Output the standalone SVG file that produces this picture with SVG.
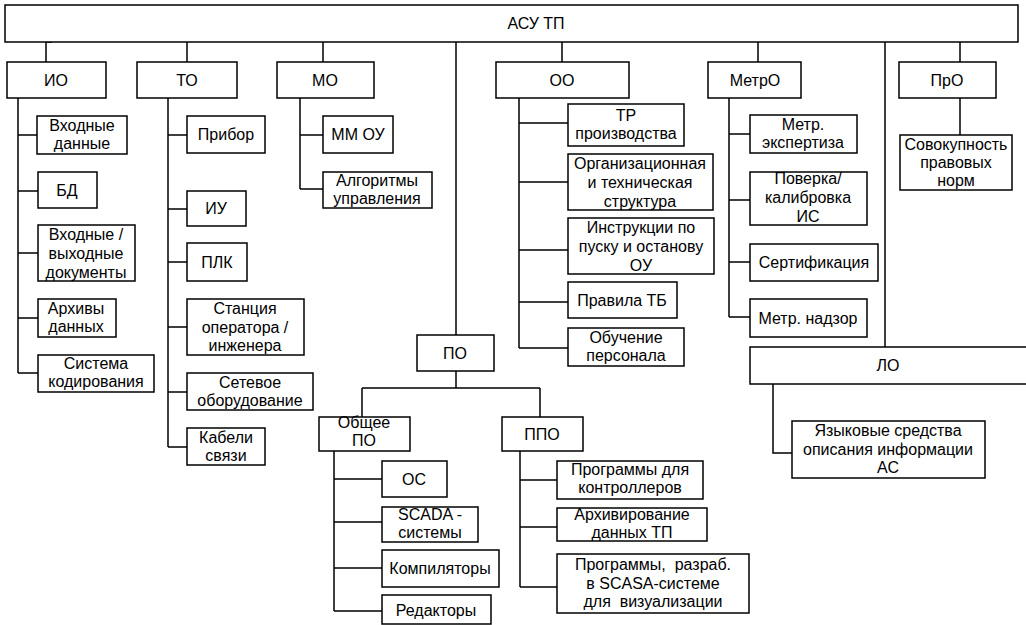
<svg xmlns="http://www.w3.org/2000/svg" width="1026" height="625" viewBox="0 0 1026 625">
<style>
.b{fill:#fff;stroke:#000;stroke-width:1.5}
.c{fill:none;stroke:#000;stroke-width:1.5}
text{font-family:"Liberation Sans",Arial,sans-serif;font-size:16px;text-anchor:middle;fill:#000}
</style>
<rect width="1026" height="625" fill="#fff"/>
<g id="connectors">
<path class="c" d="M46 42V62M46 42H52M187 42V62M323 42V62M562 42V62M758 42V62M960 42V62M456 42V335M885 42V347"/>
<path class="c" d="M18 98V373M18 135H37M18 191H38M18 253H38M18 318H38M18 373H38"/>
<path class="c" d="M168 98V447M168 135H187M168 209H187M168 262H187M168 327H187M168 392H187M168 447H187"/>
<path class="c" d="M300 98V189M300 135H323M300 189H323"/>
<path class="c" d="M519 98V348M519 123H568M519 182H568M519 250H568M519 302H568M519 348H568"/>
<path class="c" d="M729 98V317M729 134H750M729 200H750M729 262H750M729 317H750"/>
<path class="c" d="M960 98V135"/>
<path class="c" d="M773 384V453H792"/>
<path class="c" d="M456 371V388M362 388H540M362 388V417M540 388V417"/>
<path class="c" d="M334 451V611M334 479H382M334 522H382M334 568H382M334 611H382"/>
<path class="c" d="M520 451V587M520 480H557M520 527H557M520 587H557"/>
</g>
<g id="n-root"><rect class="b" x="5" y="5" width="1013" height="37"/><text x="536" y="29">АСУ ТП</text></g>
<g id="n-io"><rect class="b" x="7" y="62" width="99" height="36"/><text x="56" y="86">ИО</text></g>
<g id="n-to"><rect class="b" x="137" y="62" width="100" height="36"/><text x="187" y="86">ТО</text></g>
<g id="n-mo"><rect class="b" x="277" y="62" width="97" height="36"/><text x="325" y="86">МО</text></g>
<g id="n-oo"><rect class="b" x="496" y="62" width="133" height="36"/><text x="562" y="86">ОО</text></g>
<g id="n-metro"><rect class="b" x="708" y="62" width="93" height="36"/><text x="755" y="86">МетрО</text></g>
<g id="n-pro"><rect class="b" x="899" y="62" width="97" height="36"/><text x="947" y="86">ПрО</text></g>

<g id="n-io1"><rect class="b" x="37" y="116" width="90" height="38"/><text x="82" y="131">Входные</text><text x="82" y="149">данные</text></g>
<g id="n-io2"><rect class="b" x="38" y="172" width="59" height="36"/><text x="67" y="196">БД</text></g>
<g id="n-io3"><rect class="b" x="38" y="225" width="97" height="56"/><text x="86" y="240">Входные /</text><text x="86" y="259">выходные</text><text x="86" y="278">документы</text></g>
<g id="n-io4"><rect class="b" x="38" y="299" width="78" height="38"/><text x="76" y="314">Архивы</text><text x="76" y="332">данных</text></g>
<g id="n-io5"><rect class="b" x="38" y="355" width="116" height="37"/><text x="96" y="369">Система</text><text x="96" y="387">кодирования</text></g>

<g id="n-to1"><rect class="b" x="187" y="116" width="78" height="37"/><text x="226" y="140">Прибор</text></g>
<g id="n-to2"><rect class="b" x="187" y="191" width="59" height="35"/><text x="216" y="214">ИУ</text></g>
<g id="n-to3"><rect class="b" x="187" y="243" width="60" height="38"/><text x="217" y="268">ПЛК</text></g>
<g id="n-to4"><rect class="b" x="187" y="299" width="117" height="56"/><text x="245" y="314">Станция</text><text x="245" y="333">оператора /</text><text x="245" y="351">инженера</text></g>
<g id="n-to5"><rect class="b" x="187" y="373" width="126" height="37"/><text x="250" y="388">Сетевое</text><text x="250" y="406">оборудование</text></g>
<g id="n-to6"><rect class="b" x="187" y="428" width="78" height="37"/><text x="226" y="443">Кабели</text><text x="226" y="461">связи</text></g>

<g id="n-mo1"><rect class="b" x="323" y="116" width="70" height="37"/><text x="358" y="140">ММ ОУ</text></g>
<g id="n-mo2"><rect class="b" x="323" y="172" width="109" height="36"/><text x="377" y="186">Алгоритмы</text><text x="377" y="204">управления</text></g>

<g id="n-oo1"><rect class="b" x="568" y="104" width="116" height="42"/><text x="626" y="121">ТР</text><text x="626" y="139">производства</text></g>
<g id="n-oo2"><rect class="b" x="568" y="154" width="145" height="56"/><text x="640" y="169">Организационная</text><text x="640" y="188">и техническая</text><text x="640" y="207">структура</text></g>
<g id="n-oo3"><rect class="b" x="568" y="218" width="146" height="56"/><text x="641" y="233">Инструкции по</text><text x="641" y="252">пуску и останову</text><text x="641" y="271">ОУ</text></g>
<g id="n-oo4"><rect class="b" x="568" y="282" width="109" height="36"/><text x="622" y="306">Правила ТБ</text></g>
<g id="n-oo5"><rect class="b" x="568" y="328" width="116" height="38"/><text x="626" y="343">Обучение</text><text x="626" y="361">персонала</text></g>

<g id="n-m1"><rect class="b" x="750" y="115" width="107" height="38"/><text x="803" y="130">Метр.</text><text x="803" y="148">экспертиза</text></g>
<g id="n-m2"><rect class="b" x="750" y="172" width="117" height="53"/><text x="808" y="184">Поверка/</text><text x="808" y="203">калибровка</text><text x="808" y="222">ИС</text></g>
<g id="n-m3"><rect class="b" x="750" y="244" width="128" height="37"/><text x="814" y="268">Сертификация</text></g>
<g id="n-m4"><rect class="b" x="750" y="299" width="117" height="38"/><text x="808" y="324">Метр. надзор</text></g>

<g id="n-pr1"><rect class="b" x="900" y="135" width="112" height="55"/><text x="956" y="150">Совокупность</text><text x="956" y="168">правовых</text><text x="956" y="186">норм</text></g>

<g id="n-lo"><rect class="b" x="750" y="347" width="290" height="37"/><text x="888" y="371">ЛО</text></g>
<g id="n-lo1"><rect class="b" x="792" y="421" width="193" height="57"/><text x="888" y="436">Языковые средства</text><text x="888" y="455">описания информации</text><text x="888" y="473">АС</text></g>

<g id="n-po"><rect class="b" x="417" y="335" width="77" height="36"/><text x="455" y="359">ПО</text></g>
<g id="n-po1"><rect class="b" x="319" y="417" width="91" height="34"/><text x="364" y="428">Общее</text><text x="364" y="446">ПО</text></g>
<g id="n-po2"><rect class="b" x="502" y="417" width="81" height="34"/><text x="542" y="440">ППО</text></g>

<g id="n-g1"><rect class="b" x="382" y="461" width="65" height="36"/><text x="414" y="485">ОС</text></g>
<g id="n-g2"><rect class="b" x="382" y="507" width="96" height="35"/><text x="430" y="520">SCADA -</text><text x="430" y="538">системы</text></g>
<g id="n-g3"><rect class="b" x="382" y="550" width="117" height="37"/><text x="440" y="574">Компиляторы</text></g>
<g id="n-g4"><rect class="b" x="382" y="595" width="109" height="29"/><text x="436" y="616">Редакторы</text></g>

<g id="n-p1"><rect class="b" x="557" y="461" width="146" height="38"/><text x="630" y="475">Программы для</text><text x="630" y="493">контроллеров</text></g>
<g id="n-p2"><rect class="b" x="557" y="508" width="150" height="33"/><text x="632" y="520">Архивирование</text><text x="632" y="538">данных ТП</text></g>
<g id="n-p3"><rect class="b" x="557" y="554" width="192" height="59"/><text x="653" y="570" xml:space="preserve">Программы,  разраб.</text><text x="653" y="589">в SCASA-системе</text><text x="653" y="607" xml:space="preserve">для  визуализации</text></g>
</svg>
